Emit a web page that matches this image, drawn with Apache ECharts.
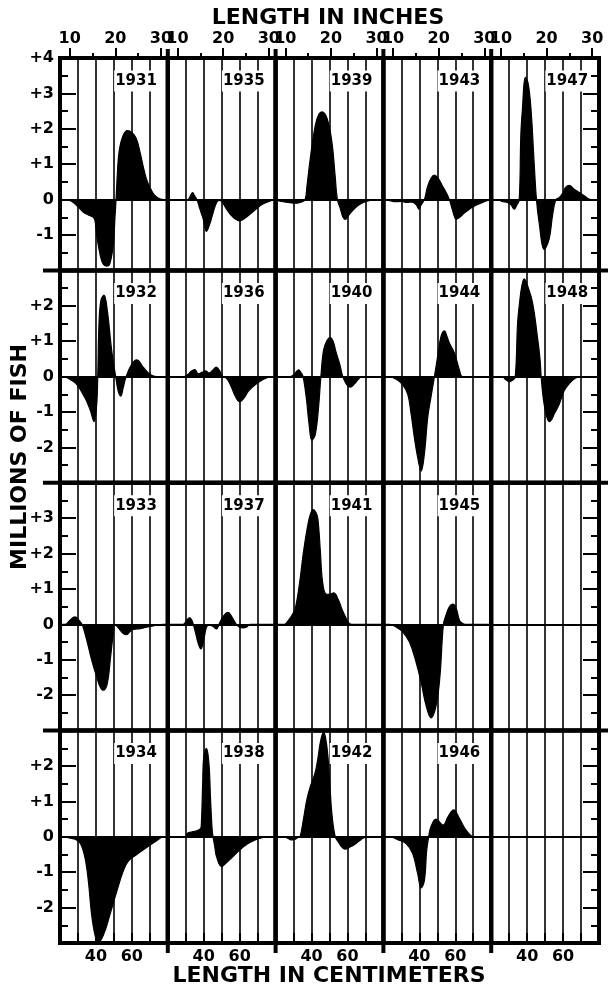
<!DOCTYPE html>
<html>
<head>
<meta charset="utf-8">
<script src="https://cdn.jsdelivr.net/npm/echarts@6/dist/echarts.min.js"></script>
<style>
  html, body { margin: 0; background: #fff; }
  #chart { width: 608px; height: 989px; }
</style>
</head>
<body>
<div id="chart"></div>
<script>
// panel years, row by row (null = empty panel)
const yearRows = [
  [1931, 1935, 1939, 1943, 1947],
  [1932, 1936, 1940, 1944, 1948],
  [1933, 1937, 1941, 1945, null],
  [1934, 1938, 1942, 1946, null]
];
// y range of each row, millions of fish
const rowRanges = [[-2, 4], [-3, 3], [-3, 4], [-3, 3]];
// x axis: length in cm, top axis ticks in inches
const cmTicks = [30, 40, 50, 60, 70];
const cmLabels = [40, 60];
const inchMajor = [10, 20, 30];
const inchMinor = [15, 25];

// [length cm, millions of fish]
const f1931 = [[20,0],[24,0],[27,-0.07],[30,-0.2],[33,-0.36],[36,-0.44],[38.5,-0.5],[39.5,-0.6],[40.4,-1.0],[42.3,-1.55],[44,-1.82],[46,-1.88],[47.8,-1.8],[49.7,-1.25],[50.6,-0.5],[51.2,0],[52,0.8],[53,1.4],[55,1.8],[57.5,1.95],[60,1.9],[62.5,1.72],[64.5,1.35],[66.4,0.92],[68,0.6],[70,0.35],[72.5,0.13],[75.5,0.02],[78,0],[80,0]];
const f1935 = [[20,0],[31,0],[32.5,0.1],[33.8,0.2],[35,0.1],[36.2,0],[37.9,-0.27],[39.7,-0.55],[41.5,-0.9],[43.3,-0.7],[45.2,-0.37],[47,-0.1],[48.5,-0.02],[50,-0.05],[52.7,-0.27],[56.4,-0.5],[60,-0.6],[63.7,-0.5],[66.5,-0.38],[69.3,-0.26],[72,-0.15],[74.9,-0.08],[77.5,-0.03],[80,0]];
const f1939 = [[20,0],[22,-0.04],[27,-0.08],[32,-0.1],[35,-0.06],[36.5,0],[37.5,0.4],[39.3,1.16],[42.1,2.1],[44,2.4],[45.8,2.48],[48.6,2.3],[51.3,1.64],[53.1,0.69],[54.4,0],[56,-0.25],[57.5,-0.5],[58.8,-0.56],[60.5,-0.45],[62.5,-0.33],[65,-0.2],[68,-0.1],[72,-0.03],[76,0],[80,0]];
const f1943 = [[20,0],[23,-0.02],[26,-0.06],[30,-0.05],[33,-0.08],[36,-0.07],[38.3,-0.15],[39.7,-0.27],[41,-0.15],[42.8,0],[44.5,0.35],[46.5,0.6],[48.4,0.69],[50.5,0.6],[52.5,0.42],[54.9,0.2],[56.7,0],[58.5,-0.3],[60.5,-0.55],[62.5,-0.5],[65,-0.38],[67.9,-0.27],[71,-0.17],[75.3,-0.08],[78,-0.02],[80,0]];
const f1947 = [[20,0],[24,0],[26,-0.05],[29,-0.08],[31,-0.15],[32.8,-0.27],[34.3,-0.15],[35.6,0],[36.5,1.83],[37.4,2.57],[39,3.45],[40.5,3.3],[42.1,2.59],[44,0.95],[45.2,0],[46.7,-0.66],[49.5,-1.41],[52.3,-1.1],[54.1,-0.46],[56,0],[58,0.06],[60,0.2],[61.5,0.35],[63.4,0.4],[66,0.3],[69,0.2],[72,0.1],[75.5,0],[80,0]];

const f1932 = [[20,0],[22,0],[25,-0.06],[29.3,-0.22],[33.9,-0.6],[36.7,-0.93],[39,-1.27],[40.4,-0.8],[41,0],[41.7,1.5],[42.8,2.16],[44.5,2.3],[46.3,1.88],[48.8,0.73],[51,0],[52.4,-0.41],[53.8,-0.55],[55.2,-0.31],[56.8,0],[59.9,0.35],[62.7,0.47],[66.4,0.26],[70,0.07],[73.8,0],[80,0]];
const f1936 = [[20,0],[29,0],[31,0.05],[33,0.15],[35,0.2],[37,0.08],[39,0.12],[41,0.16],[43,0.1],[45,0.18],[47,0.27],[49,0.15],[50.5,0],[52.7,-0.05],[55,-0.25],[57.5,-0.55],[60,-0.71],[62.5,-0.6],[65,-0.4],[69.4,-0.2],[73,-0.08],[77.7,0],[80,0]];
const f1940 = [[20,0],[28,0],[30,0.05],[32.8,0.19],[34.3,0.1],[35.3,0],[37.1,-0.6],[38.6,-1.33],[40.2,-1.8],[42.1,-1.63],[43.9,-0.87],[45.2,0],[46.7,0.75],[48.6,1.02],[50.4,1.1],[52,1.0],[53.5,0.72],[55.8,0.33],[57.4,0],[59.5,-0.22],[61.5,-0.3],[64,-0.2],[66,-0.08],[68,0],[80,0]];
const f1944 = [[20,0],[23.3,0],[27,-0.07],[30.7,-0.23],[33.6,-0.51],[35.4,-1.05],[37.2,-1.71],[39.1,-2.29],[41,-2.67],[42.8,-2.19],[44.7,-1.14],[46.5,-0.57],[48.4,0],[50.2,0.57],[52.1,1.14],[54,1.29],[55.3,1.15],[56.7,0.95],[59.5,0.67],[61,0.42],[62.3,0.19],[64.1,0],[80,0]];
const f1948 = [[20,0],[26,0],[28,-0.08],[30,-0.14],[32,-0.1],[33.4,0],[34.7,1.52],[35.6,2.0],[37,2.55],[38.4,2.76],[40,2.6],[43,2.09],[45.9,1.05],[47.2,0.48],[47.8,0],[48.7,-0.5],[49.5,-0.79],[51,-1.15],[52.3,-1.27],[53.8,-1.2],[55.1,-1.05],[57.8,-0.79],[60.6,-0.4],[63.4,-0.2],[66.7,-0.05],[69,0],[80,0]];

const f1933 = [[20,0],[22.8,0],[25.5,0.12],[28.3,0.21],[30.5,0.12],[32.3,0],[34.8,-0.43],[37.6,-1.0],[40.4,-1.48],[42.3,-1.76],[44.1,-1.86],[46.3,-1.67],[48.2,-0.9],[49.7,-0.24],[50.6,0],[52.5,-0.1],[55,-0.25],[57.1,-0.29],[59,-0.2],[61,-0.14],[64.5,-0.12],[68,-0.08],[72,-0.04],[77.5,0],[80,0]];
const f1937 = [[20,0],[28.5,0],[30.5,0.12],[32.2,0.19],[33.5,0.1],[34.2,0],[35.5,-0.25],[37,-0.55],[38.4,-0.69],[39.8,-0.5],[41.5,-0.08],[43,-0.02],[45,-0.05],[47.1,-0.13],[48.5,0],[50.5,0.2],[53.5,0.34],[55.8,0.2],[58.2,0],[60,-0.08],[61.9,-0.1],[64,-0.07],[66,0],[80,0]];
const f1941 = [[20,0],[25,0],[26.6,0.08],[29,0.25],[31,0.46],[33.7,1.31],[35.6,2.08],[38.4,2.93],[40,3.2],[41.1,3.24],[42.5,3.15],[43.5,3.0],[44.9,2.08],[46.1,1.22],[48,0.86],[50,0.85],[52.3,0.89],[55,0.69],[57,0.42],[58.8,0.22],[60.5,0.06],[62.5,0],[80,0]];
const f1945 = [[20,0],[23.3,0],[27,-0.07],[30.7,-0.21],[34.5,-0.5],[38.2,-1.07],[41,-1.64],[43.8,-2.3],[46.5,-2.64],[49.3,-2.3],[51.5,-1.45],[53.4,0],[54.9,0.27],[56.7,0.5],[58.6,0.57],[60.5,0.46],[62.3,0.12],[64,0.03],[65.5,0],[80,0]];

const f1934 = [[20,0],[22,0],[25,-0.03],[29,-0.08],[31.5,-0.2],[33.9,-0.59],[35.8,-1.26],[37.6,-2.2],[39.5,-2.78],[41.2,-2.99],[44.1,-2.78],[47.8,-2.2],[51.6,-1.54],[55.2,-0.97],[58,-0.69],[62.7,-0.5],[68.2,-0.3],[73.8,-0.11],[77.5,0],[80,0]];
const f1938 = [[20,0],[29.5,0],[31,0.1],[33,0.13],[36,0.17],[38,0.22],[38.6,0.3],[39.4,1.5],[40,2.26],[41.5,2.5],[42.9,2.07],[43.8,1.05],[44.7,0.19],[45.2,0],[46.2,-0.3],[47.1,-0.56],[49.9,-0.84],[52,-0.76],[56.3,-0.56],[60.5,-0.35],[64.7,-0.19],[69,-0.08],[73,-0.02],[75,0],[80,0]];
const f1942 = [[20,0],[25,0],[27,-0.05],[29.1,-0.09],[31,-0.07],[32.5,-0.02],[33.6,0],[35.5,0.5],[37.4,1.05],[39.5,1.45],[42,1.81],[43.5,2.2],[44.9,2.67],[46.7,2.95],[47.8,2.8],[49.1,2.29],[50.3,1.4],[51.3,0.67],[53.2,0],[55,-0.15],[57,-0.3],[58.8,-0.35],[61,-0.3],[64.4,-0.2],[67.5,-0.08],[70.9,0],[80,0]];
const f1946 = [[20,0],[24,0],[28,-0.08],[32.6,-0.19],[36.3,-0.47],[39.1,-1.05],[41,-1.44],[42.8,-1.24],[44.1,-0.38],[45.2,0],[46.5,0.29],[49.3,0.5],[53.2,0.33],[56,0.57],[59.1,0.76],[62.3,0.52],[66,0.19],[70.6,0],[80,0]];

const fishByYear = {
  1931: f1931, 1935: f1935, 1939: f1939, 1943: f1943, 1947: f1947,
  1932: f1932, 1936: f1936, 1940: f1940, 1944: f1944, 1948: f1948,
  1933: f1933, 1937: f1937, 1941: f1941, 1945: f1945,
  1934: f1934, 1938: f1938, 1942: f1942, 1946: f1946
};

const FONT = 'DejaVu Sans';
const L = 60, T = 58, colW = 107.8, U = 35.4;
const CM_PER_IN = 2.54;

const rowTop = [];
let acc = T;
rowRanges.forEach(rg => { rowTop.push(acc); acc += (rg[1] - rg[0]) * U; });
const B = acc;

const grids = [], xAxes = [], yAxes = [], series = [], graphics = [];
const black = '#000';

yearRows.forEach((row, r) => {
  const [ymin, ymax] = rowRanges[r];
  row.forEach((year, c) => {
    const g = grids.length;
    grids.push({
      left: L + c * colW, top: rowTop[r], width: colW, height: (ymax - ymin) * U,
      show: true, borderColor: black, borderWidth: 4, backgroundColor: 'transparent'
    });

    // main y axis
    const yMain = yAxes.length;
    yAxes.push({
      gridIndex: g, type: 'value', min: ymin, max: ymax, interval: 1,
      axisLine: { show: false },
      axisTick: { show: c === 0, inside: true, length: 16, lineStyle: { color: black, width: 2 } },
      minorTick: { show: c === 0, splitNumber: 2, length: 8, lineStyle: { color: black, width: 2 } },
      axisLabel: {
        show: c === 0, margin: 6, color: black, fontFamily: FONT, fontWeight: 'bold', fontSize: 16,
        showMinLabel: false, showMaxLabel: r === 0,
        formatter: v => (v > 0 ? '+' + v : String(v))
      },
      splitLine: { show: false }
    });
    if (c === 4) {
      yAxes.push({
        gridIndex: g, type: 'value', min: ymin, max: ymax, interval: 1, position: 'right',
        axisLine: { show: false },
        axisTick: { show: true, inside: true, length: 16, lineStyle: { color: black, width: 2 } },
        minorTick: { show: true, splitNumber: 2, length: 8, lineStyle: { color: black, width: 2 } },
        axisLabel: { show: false }, splitLine: { show: false }
      });
    }

    // main x axis (cm) with the 40 / 60 cm lines
    const xMain = xAxes.length;
    xAxes.push({
      gridIndex: g, type: 'value', min: 20, max: 80, interval: 20, position: 'bottom',
      axisLine: { show: false, onZero: false },
      axisTick: { show: r === 3, inside: true, length: 10, customValues: cmTicks, lineStyle: { color: black, width: 2 } },
      axisLabel: {
        show: r === 3, customValues: cmLabels, margin: 6, color: black,
        fontFamily: FONT, fontWeight: 'bold', fontSize: 16
      },
      splitLine: { show: true, lineStyle: { color: black, width: 1.6 } }
    });
    // zero line
    xAxes.push({
      gridIndex: g, type: 'value', min: 20, max: 80, position: 'top',
      axisLine: { show: true, onZero: true, onZeroAxisIndex: yMain, lineStyle: { color: black, width: 2 } },
      axisTick: { show: false }, axisLabel: { show: false }, splitLine: { show: false }
    });
    // inches on top
    if (r === 0) {
      xAxes.push({
        gridIndex: g, type: 'value', min: 20, max: 80, position: 'top',
        axisLine: { show: false, onZero: false },
        axisTick: { show: true, length: 10, customValues: inchMajor.map(v => v * CM_PER_IN), lineStyle: { color: black, width: 2 } },
        axisLabel: {
          show: true, customValues: inchMajor.map(v => v * CM_PER_IN), margin: 11, color: black,
          fontFamily: FONT, fontWeight: 'bold', fontSize: 16,
          formatter: v => String(Math.round(v / CM_PER_IN))
        },
        splitLine: { show: false }
      });
      xAxes.push({
        gridIndex: g, type: 'value', min: 20, max: 80, position: 'top',
        axisLine: { show: false, onZero: false },
        axisTick: { show: true, length: 5, customValues: inchMinor.map(v => v * CM_PER_IN), lineStyle: { color: black, width: 2 } },
        axisLabel: { show: false }, splitLine: { show: false }
      });
    }

    if (year != null) {
      series.push({
        type: 'line', xAxisIndex: xMain, yAxisIndex: yMain,
        data: fishByYear[year], smooth: 0.4, symbol: 'none', silent: true,
        lineStyle: { color: black, width: 1.2 },
        areaStyle: { color: black, opacity: 1 }
      });
      graphics.push({
        type: 'text', x: L + c * colW + 76, y: rowTop[r] + 23, z: 50,
        style: {
          text: String(year), fill: black, font: 'bold 15px "' + FONT + '"',
          align: 'center', verticalAlign: 'middle',
          backgroundColor: '#fff', padding: [3, 1]
        }
      });
    }
  });
});

// heavy separators reaching past the frame
rowTop.slice(1).forEach(y => {
  graphics.push({ type: 'line', z: 60, shape: { x1: 43, y1: y, x2: 608, y2: y }, style: { stroke: black, lineWidth: 4 } });
});
for (let c = 1; c < 5; c++) {
  const x = L + c * colW;
  graphics.push({ type: 'line', z: 60, shape: { x1: x, y1: T - 9, x2: x, y2: B + 10 }, style: { stroke: black, lineWidth: 4 } });
}

// axis titles
graphics.push(
  { type: 'text', x: 328, y: 18, style: { text: 'LENGTH IN INCHES', fill: black, font: 'bold 22px "' + FONT + '"', align: 'center', verticalAlign: 'middle' } },
  { type: 'text', x: 329, y: 976, style: { text: 'LENGTH IN CENTIMETERS', fill: black, font: 'bold 22px "' + FONT + '"', align: 'center', verticalAlign: 'middle' } },
  { type: 'text', x: 20, y: 457, rotation: Math.PI / 2, style: { text: 'MILLIONS OF FISH', fill: black, font: 'bold 22px "' + FONT + '"', align: 'center', verticalAlign: 'middle' } }
);

const chart = echarts.init(document.getElementById('chart'), null, { renderer: 'canvas' });
chart.setOption({
  animation: false,
  backgroundColor: '#fff',
  grid: grids,
  xAxis: xAxes,
  yAxis: yAxes,
  series: series,
  graphic: graphics
});
</script>
</body>
</html>
